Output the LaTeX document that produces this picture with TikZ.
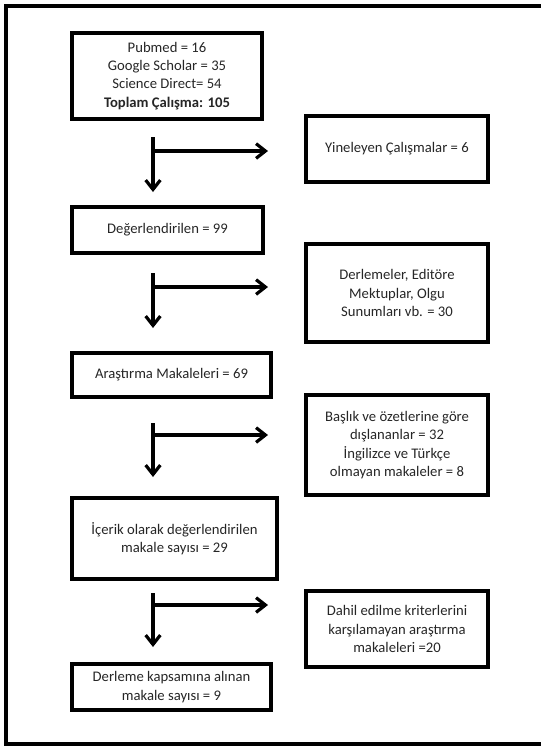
\documentclass[tikz,border=0pt]{standalone}
\usepackage{fontspec}
\setmainfont{Carlito}
\usetikzlibrary{arrows.meta}

\begin{document}
\begin{tikzpicture}[x=0.75pt,y=-0.75pt,
  kutu/.style={draw,line width=2.6pt,align=center,inner sep=2pt,
    font=\fontsize{11}{13.7}\selectfont,text=black!85},
  ok/.style={line width=2.4pt,-{Straight Barb[length=7pt,width=11pt]}}]
  \useasboundingbox (0,0) rectangle (541,747);
  \draw[line width=2.6pt] (541,6) -- (6,6) -- (6,744) -- (541,744);

  % left column
  \node[kutu,minimum width=142.5pt,minimum height=64.5pt] (kaynak) at (167,76)
    {Pubmed = 16\\Google Scholar = 35\\Science Direct= 54\\\textbf{Toplam Çalışma: 105}};
  \node[kutu,minimum width=143.25pt,minimum height=34.5pt] (deger) at (167.5,230)
    {Değerlendirilen = 99};
  \node[kutu,minimum width=149.25pt,minimum height=33pt] (arastirma) at (171.5,375)
    {Araştırma Makaleleri = 69};
  \node[kutu,minimum width=153.75pt,minimum height=60.75pt] (icerik) at (174.5,538.5)
    {İçerik olarak değerlendirilen\\makale sayısı = 29};
  \node[kutu,minimum width=149.25pt,minimum height=34.5pt] (derleme) at (171.5,687)
    {Derleme kapsamına alınan\\makale sayısı = 9};

  % right column
  \node[kutu,minimum width=136.5pt,minimum height=49.5pt] (yineleyen) at (397,149)
    {Yineleyen Çalışmalar = 6};
  \node[kutu,minimum width=136.5pt,minimum height=73.5pt] (derlemeler) at (397,293)
    {Derlemeler, Editöre\\Mektuplar, Olgu\\Sunumları vb. = 30};
  \node[kutu,minimum width=136.5pt,minimum height=75pt] (baslik) at (397,445)
    {Başlık ve özetlerine göre\\dışlananlar = 32\\İngilizce ve Türkçe\\olmayan makaleler = 8};
  \node[kutu,minimum width=136.5pt,minimum height=57pt] (dahil) at (397,629)
    {Dahil edilme kriterlerini\\karşılamayan araştırma\\makaleleri =20};

  % arrows
  \coordinate (ust1) at (153,137);  \coordinate (alt1) at (153,192);
  \coordinate (dal1) at (153,151);  \coordinate (uc1) at (268,151);
  \draw[ok] (ust1) -- (alt1);
  \draw[ok] (dal1) -- (uc1);

  \coordinate (ust2) at (153,273);  \coordinate (alt2) at (153,328);
  \coordinate (dal2) at (153,287);  \coordinate (uc2) at (268,287);
  \draw[ok] (ust2) -- (alt2);
  \draw[ok] (dal2) -- (uc2);

  \coordinate (ust3) at (153,423);  \coordinate (alt3) at (153,477);
  \coordinate (dal3) at (153,435);  \coordinate (uc3) at (268,435);
  \draw[ok] (ust3) -- (alt3);
  \draw[ok] (dal3) -- (uc3);

  \coordinate (ust4) at (153,593);  \coordinate (alt4) at (153,647);
  \coordinate (dal4) at (153,605);  \coordinate (uc4) at (268,605);
  \draw[ok] (ust4) -- (alt4);
  \draw[ok] (dal4) -- (uc4);
\end{tikzpicture}
\end{document}
